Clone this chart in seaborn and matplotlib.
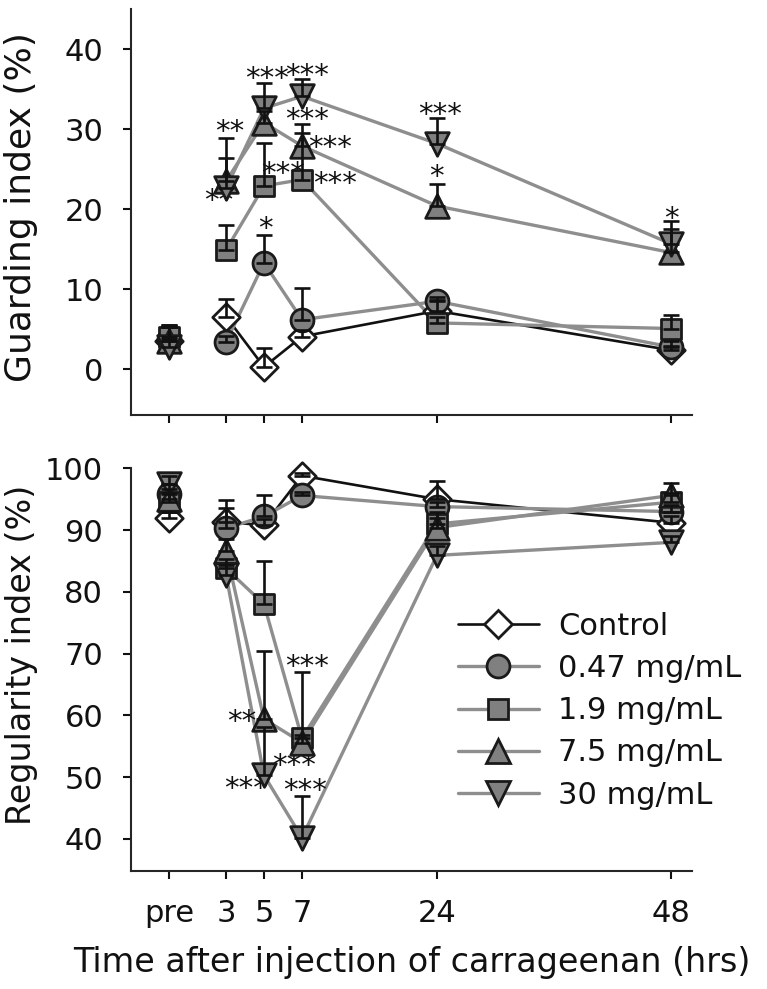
import numpy as np
import pandas as pd
import matplotlib
matplotlib.use("Agg")
import matplotlib.pyplot as plt
from matplotlib.lines import Line2D
import seaborn as sns

# ---------------- data ----------------
time_labels = ["pre", "3", "5", "7", "24", "48"]
time_pos = [0, 3, 5, 7, 14.1, 26.4]
groups = ["Control", "0.47 mg/mL", "1.9 mg/mL", "7.5 mg/mL", "30 mg/mL"]

# Guarding index (%) - means
guard_control = [3.5, 6.6, 0.3, 4.1, 7.3, 2.4]
guard_047 = [3.8, 3.4, 13.3, 6.2, 8.5, 2.8]
guard_19 = [4.0, 14.9, 22.9, 23.7, 5.8, 5.1]
guard_75 = [3.6, 23.5, 30.8, 27.9, 20.4, 14.6]
guard_30 = [2.8, 22.6, 32.6, 34.1, 28.2, 15.7]
# Guarding index - upper error (SEM)
guard_control_err = [2.0, 2.2, 2.4, 0.8, 1.4, 0.5]
guard_047_err = [1.5, 0.8, 3.5, 4.0, 0.5, 0.8]
guard_19_err = [1.6, 3.1, 5.4, 5.8, 0.8, 1.7]
guard_75_err = [1.8, 2.9, 1.5, 2.8, 2.8, 2.9]
guard_30_err = [2.5, 6.3, 3.1, 2.1, 3.2, 2.8]

# Regularity index (%) - means
reg_control = [91.9, 91.3, 90.8, 98.8, 95.0, 91.2]
reg_047 = [95.9, 90.3, 92.2, 95.6, 93.8, 93.0]
reg_19 = [94.5, 83.8, 78.0, 56.3, 91.0, 94.5]
reg_75 = [95.1, 86.6, 59.4, 55.6, 90.4, 95.6]
reg_30 = [97.4, 82.8, 50.3, 40.2, 85.9, 88.0]
# Regularity index - upper error (SEM)
reg_control_err = [1.0, 3.5, 1.0, 0.5, 2.9, 1.0]
reg_047_err = [1.5, 3.2, 3.5, 0.5, 0.8, 1.0]
reg_19_err = [1.5, 1.5, 7.0, 10.7, 2.0, 1.5]
reg_75_err = [1.5, 2.0, 11.1, 1.2, 1.5, 2.0]
reg_30_err = [1.4, 1.5, 7.8, 6.8, 1.5, 1.0]

# significance marks: (time position, value, text)
guard_stars = [(3.2, 30.75, "**"), (2.6, 22.1, "**"), (5.15, 37.4, "***"),
               (7.25, 37.8, "***"), (7.25, 32.2, "***"), (8.5, 28.7, "***"),
               (6.0, 25.5, "***"), (8.75, 24.3, "***"), (5.05, 18.7, "*"),
               (14.25, 32.9, "***"), (14.1, 25.1, "*"), (26.45, 19.9, "*")]
reg_stars = [(3.85, 60.3, "**"), (4.05, 49.5, "***"), (7.25, 69.2, "***"),
             (6.6, 53.2, "***"), (7.15, 49.2, "***")]


def long_df(means, errs):
    rows = []
    for g, m, e in zip(groups, means, errs):
        for lab, p, v, er in zip(time_labels, time_pos, m, e):
            rows.append(dict(group=g, time=lab, pos=p, value=v, err=er))
    return pd.DataFrame(rows)


guard_df = long_df([guard_control, guard_047, guard_19, guard_75, guard_30],
                   [guard_control_err, guard_047_err, guard_19_err, guard_75_err, guard_30_err])
reg_df = long_df([reg_control, reg_047, reg_19, reg_75, reg_30],
                 [reg_control_err, reg_047_err, reg_19_err, reg_75_err, reg_30_err])

# ---------------- style ----------------
sns.set_theme(style="ticks")
plt.rcParams["font.family"] = ["DejaVu Sans"]
plt.rcParams["axes.linewidth"] = 1.5

FILL = "#808080"
LINE = "#8e8e8e"
EDGE = "#1a1a1a"
MEW = 2.0
styles = {
    "Control": dict(marker="D", ms=14.0, face="white", line="#111111", lw=1.9),
    "0.47 mg/mL": dict(marker="o", ms=16.5, face=FILL, line=LINE, lw=2.4),
    "1.9 mg/mL": dict(marker="s", ms=15.0, face=FILL, line=LINE, lw=2.4),
    "7.5 mg/mL": dict(marker="^", ms=17.0, face=FILL, line=LINE, lw=2.4),
    "30 mg/mL": dict(marker="v", ms=17.0, face=FILL, line=LINE, lw=2.4),
}

fig = plt.figure(figsize=(7.67, 9.89), dpi=100)
ax_top = fig.add_axes([131 / 767, 1 - 415 / 989, 561 / 767, 406 / 989])
ax_bot = fig.add_axes([131 / 767, 1 - 871 / 989, 561 / 767, 402.7 / 989])


def draw(ax, df):
    for i, g in enumerate(groups):
        st = styles[g]
        d = df[df.group == g]
        post = d[d.time != "pre"]
        sns.lineplot(data=post, x="pos", y="value", ax=ax, color=st["line"],
                     linewidth=st["lw"], estimator=None, sort=False,
                     legend=False, zorder=2)
    for i, g in enumerate(groups):
        st = styles[g]
        d = df[df.group == g]
        sns.scatterplot(data=d, x="pos", y="value", ax=ax, marker=st["marker"],
                        s=st["ms"] ** 2, color=st["face"], edgecolor=EDGE,
                        linewidth=MEW, legend=False, zorder=3 + 0.1 * i,
                        clip_on=False)
    for g in groups:
        d = df[df.group == g]
        ax.errorbar(d.pos, d.value, yerr=[np.zeros(len(d)), d.err.values],
                    fmt="none", ecolor="#111111", elinewidth=1.9, capsize=6,
                    capthick=1.9, zorder=4, clip_on=False)


draw(ax_top, guard_df)
draw(ax_bot, reg_df)

STAR_FS = 21
for ax, stars in ((ax_top, guard_stars), (ax_bot, reg_stars)):
    for x, y, t in stars:
        ax.annotate(t, xy=(x, y), xytext=(0, -0.58 * STAR_FS),
                    textcoords="offset points", ha="center", va="baseline",
                    fontsize=STAR_FS, color="#111111", zorder=2.5)

for ax in (ax_top, ax_bot):
    sns.despine(ax=ax)
    ax.set_xlim(-2.0, 27.53)
    ax.set_xticks(time_pos)
    ax.tick_params(axis="both", direction="out", length=6, width=1.5,
                   color="#111111", labelsize=22, pad=14, labelcolor="#111111")
    ax.set_xlabel("")
    ax.set_ylabel("")

ax_top.set_xticklabels([])
ax_top.set_ylim(-5.7, 45.0)
ax_top.set_yticks([0, 10, 20, 30, 40])
ax_top.set_ylabel("Guarding index (%)", fontsize=26, color="#111111")
ax_top.yaxis.set_label_coords(-0.166, 0.511)

ax_bot.set_ylim(34.8, 100)
ax_bot.set_yticks([40, 50, 60, 70, 80, 90, 100])
ax_bot.set_xticklabels(time_labels)
ax_bot.set_ylabel("Regularity index (%)", fontsize=24, color="#111111")
ax_bot.yaxis.set_label_coords(-0.166, 0.537)
ax_bot.set_xlabel("Time after injection of carrageenan (hrs)", fontsize=24,
                  color="#111111")
ax_bot.xaxis.set_label_coords(0.5, -0.186)

# legend
handles = []
for g in groups:
    st = styles[g]
    handles.append(Line2D([], [], color=st["line"], linewidth=st["lw"],
                          marker=st["marker"], markersize=st["ms"],
                          markerfacecolor=st["face"], markeredgecolor=EDGE,
                          markeredgewidth=MEW))
ax_bot.legend(handles, groups, loc="upper left",
              bbox_to_anchor=(458 / 767, 1 - 612 / 989),
              bbox_transform=fig.transFigure, frameon=False, fontsize=22,
              handlelength=2.65, handletextpad=0.62, labelspacing=0.43,
              borderpad=0, borderaxespad=0, labelcolor="#111111")

fig.savefig("out.png", dpi=100)
